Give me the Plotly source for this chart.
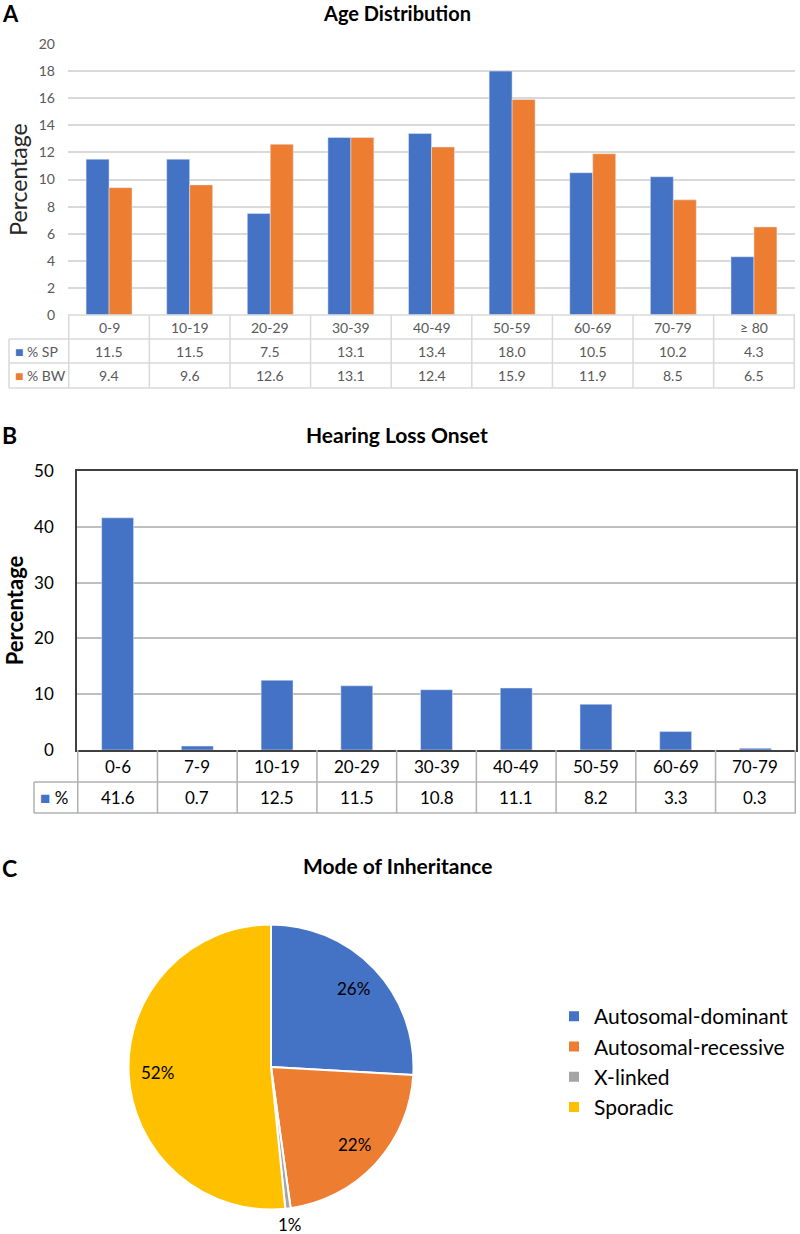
import math
import plotly.graph_objects as go

# ---------------- data ----------------
age_groups = ["0-9", "10-19", "20-29", "30-39", "40-49", "50-59", "60-69", "70-79", "≥ 80"]
sp_pct = [11.5, 11.5, 7.5, 13.1, 13.4, 18.0, 10.5, 10.2, 4.3]
bw_pct = [9.4, 9.6, 12.6, 13.1, 12.4, 15.9, 11.9, 8.5, 6.5]

onset_groups = ["0-6", "7-9", "10-19", "20-29", "30-39", "40-49", "50-59", "60-69", "70-79"]
onset_pct = [41.6, 0.7, 12.5, 11.5, 10.8, 11.1, 8.2, 3.3, 0.3]

modes = ["Autosomal-dominant", "Autosomal-recessive", "X-linked", "Sporadic"]
mode_pct = [25.9, 21.9, 0.6, 51.6]

# ---------------- style ----------------
W, H = 800, 1234
BLUE, ORANGE, GREY, GOLD = "#4472C4", "#ED7D31", "#A5A5A5", "#FFC000"
FONT = "Lato"
def px(x):
    return x / W
def py(y):
    return 1 - y / H

# pie geometry (pixels)
PIE_CX, PIE_CY, PIE_R = 271, 1067, 142.5

fig = go.Figure()

# Panel A bars
fig.add_trace(go.Bar(x=age_groups, y=sp_pct, name="% SP", marker_color=BLUE,
                     xaxis="x", yaxis="y", showlegend=False))
fig.add_trace(go.Bar(x=age_groups, y=bw_pct, name="% BW", marker_color=ORANGE,
                     xaxis="x", yaxis="y", showlegend=False))
# Panel B bars
fig.add_trace(go.Bar(x=onset_groups, y=onset_pct, name="%", marker_color=BLUE,
                     width=0.4, xaxis="x2", yaxis="y2", showlegend=False))
# Panel C pie
fig.add_trace(go.Pie(
    labels=modes, values=mode_pct, sort=False, direction="clockwise", rotation=0,
    marker=dict(colors=[BLUE, ORANGE, GREY, GOLD], line=dict(color="white", width=2)),
    textinfo="none",
    domain=dict(x=[px(PIE_CX - PIE_R), px(PIE_CX + PIE_R)],
                y=[py(PIE_CY + PIE_R), py(PIE_CY - PIE_R)]),
    showlegend=True,
))

shapes = []
annotations = []

# ---------- Panel A table ----------
A_top, A_r1, A_r2, A_bot = 315, 339, 363, 388
A_left, A_plot_l, A_right = 9, 68, 795
lc_a = "#d9d9d9"
for k in range(len(age_groups) + 1):
    shapes.append(dict(type="line", xref="x", yref="paper", x0=k - 0.5, x1=k - 0.5,
                       y0=py(A_top), y1=py(A_bot), line=dict(color=lc_a, width=1.5)))
shapes.append(dict(type="line", xref="paper", yref="paper", x0=px(A_plot_l), x1=px(A_right),
                   y0=py(A_top), y1=py(A_top), line=dict(color=lc_a, width=1.5)))
for yy in (A_r1, A_r2, A_bot):
    shapes.append(dict(type="line", xref="paper", yref="paper", x0=px(A_left), x1=px(A_right),
                       y0=py(yy), y1=py(yy), line=dict(color=lc_a, width=1.5)))
shapes.append(dict(type="line", xref="paper", yref="paper", x0=px(A_left), x1=px(A_left),
                   y0=py(A_r1), y1=py(A_bot), line=dict(color=lc_a, width=1.5)))
fa = dict(family=FONT, size=14, color="#595959")
for g, s, b in zip(age_groups, sp_pct, bw_pct):
    annotations.append(dict(x=g, y=py((A_top + A_r1) / 2), xref="x", yref="paper", text=g,
                            showarrow=False, font=fa, yanchor="middle"))
    annotations.append(dict(x=g, y=py((A_r1 + A_r2) / 2), xref="x", yref="paper", text=f"{s:.1f}",
                            showarrow=False, font=fa, yanchor="middle"))
    annotations.append(dict(x=g, y=py((A_r2 + A_bot) / 2), xref="x", yref="paper", text=f"{b:.1f}",
                            showarrow=False, font=fa, yanchor="middle"))
annotations.append(dict(x=px(13), y=py((A_r1 + A_r2) / 2), xref="paper", yref="paper", xanchor="left",
                        yanchor="middle", showarrow=False, font=fa,
                        text=f"<span style='color:{BLUE}'>■</span> % SP"))
annotations.append(dict(x=px(13), y=py((A_r2 + A_bot) / 2), xref="paper", yref="paper", xanchor="left",
                        yanchor="middle", showarrow=False, font=fa,
                        text=f"<span style='color:{ORANGE}'>■</span> % BW"))

# ---------- Panel B table ----------
B_top, B_r1, B_bot = 750, 782, 813
B_left, B_plot_l, B_right = 34, 77, 796
lc_b = "#b0b0b0"
for k in range(len(onset_groups) + 1):
    shapes.append(dict(type="line", xref="x2", yref="paper", x0=k - 0.5, x1=k - 0.5,
                       y0=py(B_top), y1=py(B_bot), line=dict(color=lc_b, width=1.5)))
for yy in (B_r1, B_bot):
    shapes.append(dict(type="line", xref="paper", yref="paper", x0=px(B_left), x1=px(B_right),
                       y0=py(yy), y1=py(yy), line=dict(color=lc_b, width=1.5)))
shapes.append(dict(type="line", xref="paper", yref="paper", x0=px(B_left), x1=px(B_left),
                   y0=py(B_r1), y1=py(B_bot), line=dict(color=lc_b, width=1.5)))
fb = dict(family=FONT, size=17, color="black")
for g, v in zip(onset_groups, onset_pct):
    annotations.append(dict(x=g, y=py((B_top + B_r1) / 2), xref="x2", yref="paper", text=g,
                            showarrow=False, font=fb, yanchor="middle"))
    annotations.append(dict(x=g, y=py((B_r1 + B_bot) / 2), xref="x2", yref="paper", text=f"{v:.1f}",
                            showarrow=False, font=fb, yanchor="middle"))
annotations.append(dict(x=px(38), y=py((B_r1 + B_bot) / 2), xref="paper", yref="paper", xanchor="left",
                        yanchor="middle", showarrow=False, font=fb,
                        text=f"<span style='color:{BLUE}'>■</span> %"))

# ---------- pie percentage labels ----------
total = sum(mode_pct)
cum = 0.0
for name, v in zip(modes, mode_pct):
    mid = 2 * math.pi * (cum + v / 2) / total
    cum += v
    if v / total < 0.02:
        r = PIE_R + 17
    else:
        r = 0.8 * PIE_R
    lx = PIE_CX + r * math.sin(mid)
    ly = PIE_CY - r * math.cos(mid)
    annotations.append(dict(x=px(lx), y=py(min(ly, 1224)), xref="paper", yref="paper",
                            text=f"{round(100 * v / total):d}%", showarrow=False,
                            xanchor="center", yanchor="middle",
                            font=dict(family=FONT, size=17, color="black")))

# ---------- titles & panel letters ----------
def bold(t):
    return f"<b>{t}</b>"
annotations += [
    dict(x=px(0), y=py(13), xref="paper", yref="paper", xanchor="left", yanchor="middle",
         text=bold("A"), showarrow=False, font=dict(family=FONT, size=22, color="black")),
    dict(x=px(397), y=py(13), xref="paper", yref="paper", yanchor="middle",
         text=bold("Age Distribution"), showarrow=False, font=dict(family=FONT, size=20, color="black")),
    dict(x=px(0), y=py(435), xref="paper", yref="paper", xanchor="left", yanchor="middle",
         text=bold("B"), showarrow=False, font=dict(family=FONT, size=23, color="black")),
    dict(x=px(397), y=py(434), xref="paper", yref="paper", yanchor="middle",
         text=bold("Hearing Loss Onset"), showarrow=False, font=dict(family=FONT, size=21, color="black")),
    dict(x=px(0), y=py(868), xref="paper", yref="paper", xanchor="left", yanchor="middle",
         text=bold("C"), showarrow=False, font=dict(family=FONT, size=23, color="black")),
    dict(x=px(397), y=py(866), xref="paper", yref="paper", yanchor="middle",
         text=bold("Mode of Inheritance"), showarrow=False, font=dict(family=FONT, size=21, color="black")),
]

fig.update_layout(
    width=W, height=H, margin=dict(l=0, r=0, t=0, b=0, pad=0, autoexpand=False),
    paper_bgcolor="white", plot_bgcolor="white",
    font=dict(family=FONT),
    barmode="group", bargap=0.43, bargroupgap=0,
    xaxis=dict(domain=[px(68), px(795)], showticklabels=False, showgrid=False, showline=False,
               ticks="", anchor="y", automargin=False),
    yaxis=dict(domain=[py(315), py(44)], range=[0, 20], dtick=2, showgrid=True, gridcolor="#d9d9d9",
               gridwidth=1.5, zeroline=False, showline=False, ticks="", ticklabelstandoff=12,
               automargin=False,
               tickfont=dict(family=FONT, size=14, color="#595959"), anchor="x",
               title=dict(text="Percentage", standoff=4,
                          font=dict(family=FONT, size=23, color="#262626"))),
    xaxis2=dict(domain=[px(77), px(796)], showticklabels=False, showgrid=False, showline=True,
                mirror=True, linecolor="#404040", linewidth=1.5, ticks="", anchor="y2",
                automargin=False),
    yaxis2=dict(domain=[py(750), py(471)], range=[0, 50], dtick=10, showgrid=True, gridcolor="#bfbfbf",
                gridwidth=1.5, zeroline=False, showline=True, mirror=True, linecolor="#404040",
                linewidth=1.5, ticks="", ticklabelstandoff=18, automargin=False,
                tickfont=dict(family=FONT, size=17, color="black"), anchor="x2",
                title=dict(text=bold("Percentage"), standoff=4,
                           font=dict(family=FONT, size=22, color="black"))),
    legend=dict(x=px(554), y=py(996), xanchor="left", yanchor="top",
                font=dict(family=FONT, size=21, color="black"), bgcolor="rgba(0,0,0,0)"),
    shapes=shapes, annotations=annotations,
)

fig.write_html("out.html", config={"displayModeBar": False},
               post_script="document.body.style.margin='0';")
